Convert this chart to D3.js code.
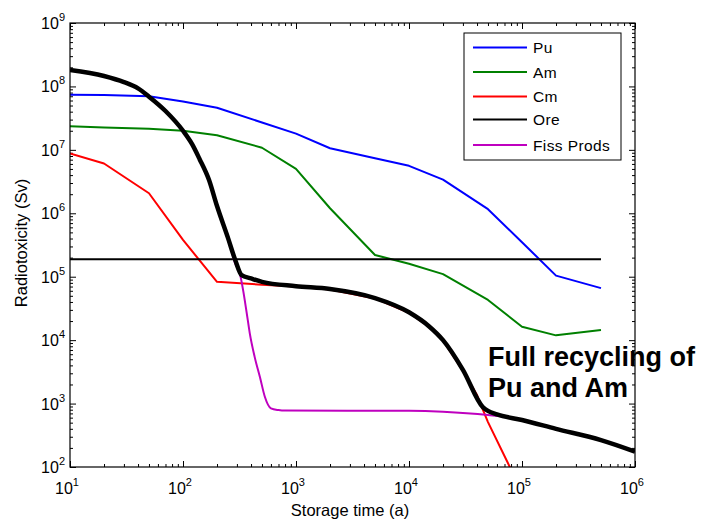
<!DOCTYPE html>
<html><head><meta charset="utf-8">
<script src="https://cdn.jsdelivr.net/npm/d3@7"></script>
<style>body{margin:0;background:#fff}svg{display:block}text{font-family:"Liberation Sans",Arial,sans-serif}</style>
</head><body>
<script>
// ---- data ----
const gridT = [10,20,50,100,200,500,1000,2000,5000,1e4,2e4,5e4,1e5,2e5,5e5];
const puVals = [7.4e7,7.3e7,7.0e7,5.8e7,4.6e7,2.7e7,1.8e7,1.06e7,7.4e6,5.6e6,3.4e6,1.16e6,3.5e5,1.04e5,6.6e4];
const amVals = [2.35e7,2.25e7,2.15e7,2.0e7,1.7e7,1.08e7,5.0e6,1.2e6,2.2e5,1.6e5,1.1e5,4.3e4,1.63e4,1.19e4,1.45e4];
const cmT = [10,20,50,100,200,500,1000,2000,5000,1e4,1.5e4,2e4,3e4,4e4,4.5e4,5e4,7.8e4,1e5];
const cmVals = [8.8e6,6.1e6,2.07e6,3.8e5,8.3e4,7.5e4,7.0e4,6.3e4,4.55e4,2.7e4,1.63e4,9.9e3,3.3e3,1.36e3,800,510,100,40];
const oreT = [10,5e5];
const oreVals = [1.88e5,1.88e5];
const fpT = [10,20,30,40,50,70,100,120,140,170,200,250,290,318,340,365,390,430,480,530,600,700,800,1e4,2e4,5e4,1e5,2e5,5e5,1e6];
const fpVals = [1.82e8,1.46e8,1.17e8,9.3e7,6.9e7,4.1e7,2.0e7,1.24e7,7.2e6,3.35e6,1.3e6,4.1e5,1.6e5,1.13e5,6.2e4,2.8e4,1.28e4,5.5e3,2.6e3,1.28e3,840,790,775,770,745,660,560,400,266,175];
const totT = [10,20,30,40,50,70,100,120,140,170,200,250,290,330,400,500,1000,2000,5000,1e4,1.5e4,2e4,3e4,4.5e4,5e4,6e4,1e5,2e5,5e5,1e6];
const totVals = [1.82e8,1.46e8,1.17e8,9.3e7,6.9e7,4.1e7,2.0e7,1.24e7,7.2e6,3.35e6,1.3e6,4.1e5,1.83e5,1.06e5,9.4e4,8.3e4,7.1e4,6.4e4,4.6e4,2.75e4,1.66e4,1.0e4,3.4e3,880,765,675,550,400,266,175];
const legendNames = ["Pu","Am","Cm","Ore","Fiss Prods"];
const legendColors = ["#0000ff","#008000","#ff0000","#000000","#bf00bf"];
const xTickExps = [1,2,3,4,5,6];
const yTickExps = [2,3,4,5,6,7,8,9];
const xTitle = "Storage time (a)";
const yTitle = "Radiotoxicity (Sv)";
const noteLines = ["Full recycling of","Pu and Am"];

// ---- layout ----
const W=704,H=522, L=70,R=635,T=23,B=467;
const svg=d3.select("body").append("svg").attr("width",W).attr("height",H);
const x=d3.scaleLog().domain([10,1e6]).range([L,R]);
const y=d3.scaleLog().domain([100,1e9]).range([B,T]);

svg.append("defs").append("clipPath").attr("id","clip").append("rect")
  .attr("x",L).attr("y",T).attr("width",R-L).attr("height",B-T);

const majorX=xTickExps.map(e=>Math.pow(10,e));
const majorY=yTickExps.map(e=>Math.pow(10,e));
const minorX=[],minorY=[];
for(let e=1;e<6;e++)for(let k=2;k<10;k++)minorX.push(k*Math.pow(10,e));
for(let e=2;e<9;e++)for(let k=2;k<10;k++)minorY.push(k*Math.pow(10,e));

function styleAxis(g){g.select(".domain").remove();g.selectAll("line").attr("stroke","#000").attr("stroke-width",1);g.selectAll("text").remove();}
svg.append("g").attr("transform",`translate(0,${B})`).call(d3.axisBottom(x).tickValues(majorX).tickSize(-6).tickFormat("")).call(styleAxis);
svg.append("g").attr("transform",`translate(0,${B})`).call(d3.axisBottom(x).tickValues(minorX).tickSize(-3).tickFormat("")).call(styleAxis);
svg.append("g").attr("transform",`translate(0,${T})`).call(d3.axisTop(x).tickValues(majorX).tickSize(-6).tickFormat("")).call(styleAxis);
svg.append("g").attr("transform",`translate(0,${T})`).call(d3.axisTop(x).tickValues(minorX).tickSize(-3).tickFormat("")).call(styleAxis);
svg.append("g").attr("transform",`translate(${L},0)`).call(d3.axisLeft(y).tickValues(majorY).tickSize(-6).tickFormat("")).call(styleAxis);
svg.append("g").attr("transform",`translate(${L},0)`).call(d3.axisLeft(y).tickValues(minorY).tickSize(-3).tickFormat("")).call(styleAxis);
svg.append("g").attr("transform",`translate(${R},0)`).call(d3.axisRight(y).tickValues(majorY).tickSize(-6).tickFormat("")).call(styleAxis);
svg.append("g").attr("transform",`translate(${R},0)`).call(d3.axisRight(y).tickValues(minorY).tickSize(-3).tickFormat("")).call(styleAxis);

// tick labels
xTickExps.forEach(e=>{
  const t=svg.append("text").attr("x",x(Math.pow(10,e))-3).attr("y",B+27).attr("text-anchor","middle").attr("font-size",16).attr("fill","#000");
  t.append("tspan").text("10");
  t.append("tspan").attr("dy",-8).attr("font-size",11).text(e);
});
yTickExps.forEach(e=>{
  const t=svg.append("text").attr("x",65).attr("y",y(Math.pow(10,e))+6).attr("text-anchor","end").attr("font-size",16).attr("fill","#000");
  t.append("tspan").text("10");
  t.append("tspan").attr("dy",-8).attr("font-size",11).text(e);
});

// axis titles
svg.append("text").attr("x",350).attr("y",516).attr("text-anchor","middle").attr("font-size",16.5).text(xTitle);
svg.append("text").attr("transform",`translate(27,${(T+B)/2-2}) rotate(-90)`).attr("text-anchor","middle").attr("font-size",16.5).text(yTitle);

// lines
const line=d3.line().x(d=>x(d[0])).y(d=>y(d[1]));
const smooth=d3.line().x(d=>x(d[0])).y(d=>y(d[1])).curve(d3.curveMonotoneX);
const plot=svg.append("g").attr("clip-path","url(#clip)");
function draw(ts,vs,color,w,gen){
  plot.append("path").datum(ts.map((t,i)=>[t,vs[i]])).attr("d",gen).attr("fill","none")
    .attr("stroke",color).attr("stroke-width",w).attr("stroke-linejoin","round");
}
draw(gridT,puVals,legendColors[0],2,line);
draw(gridT,amVals,legendColors[1],2,line);
draw(cmT,cmVals,legendColors[2],2,line);
draw(oreT,oreVals,legendColors[3],2,line);
draw(fpT,fpVals,legendColors[4],2,smooth);
draw(totT,totVals,"#000",4.5,smooth);

// frame
svg.append("rect").attr("x",L).attr("y",T).attr("width",R-L).attr("height",B-T).attr("fill","none").attr("stroke","#000").attr("stroke-width",1.2);

// legend
const lg=svg.append("g");
lg.append("rect").attr("x",464).attr("y",33).attr("width",157).attr("height",127).attr("fill","#fff").attr("stroke","#000").attr("stroke-width",1);
const ly=[47.5,72,96.5,119.5,145];
legendNames.forEach((n,i)=>{
  lg.append("line").attr("x1",473).attr("x2",527).attr("y1",ly[i]).attr("y2",ly[i]).attr("stroke",legendColors[i]).attr("stroke-width",2);
  lg.append("text").attr("x",533).attr("y",ly[i]+5.5).attr("font-size",15.5).attr("letter-spacing",0.4).text(n);
});

// annotation
noteLines.forEach((s,i)=>{
  svg.append("text").attr("x",488).attr("y",366+i*31).attr("font-size",27).attr("font-weight","bold").attr("fill","#000").text(s);
});
</script>
</body></html>
